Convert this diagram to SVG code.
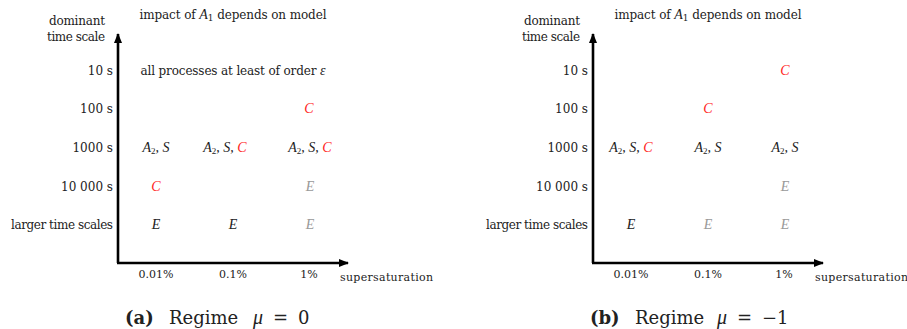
<svg xmlns="http://www.w3.org/2000/svg" width="907" height="329" viewBox="0 0 907 329">
<style>
text{font-family:"DejaVu Serif","Liberation Serif",serif;fill:#222}
.t{font-size:12px}
.s{font-size:12px}
.x{font-size:11px}
.m{font-family:"Liberation Serif","DejaVu Serif",serif;font-style:italic;font-size:14px}
.i{font-family:"Liberation Serif","DejaVu Serif",serif;font-style:italic}
.r{fill:#f22}
.g{fill:#999}
.e{text-anchor:end}
.c{text-anchor:middle}
.cap{font-size:18px}
.ax{stroke:#000;stroke-width:2.6;fill:none}
</style>
<defs>
<marker id="ah" viewBox="0 0 10 8" refX="9" refY="4" markerWidth="10" markerHeight="8" markerUnits="userSpaceOnUse" orient="auto">
<path d="M0,0 L10,4 L0,8 Z" fill="#000"/>
</marker>
<g id="panel-base">
<text class="s e" x="105" y="25" textLength="56">dominant</text>
<text class="s e" x="105" y="41" textLength="58">time scale</text>
<text class="t c" x="233" y="19" textLength="187">impact of <tspan class="i" font-size="14">A</tspan><tspan font-size="9" dy="2">1</tspan><tspan dy="-2"> depends on model</tspan></text>
<text class="t e" x="113" y="75">10 s</text>
<text class="t e" x="113" y="113">100 s</text>
<text class="t e" x="113" y="152">1000 s</text>
<text class="t e" x="113" y="191">10 000 s</text>
<text class="t e" x="113" y="229" textLength="102">larger time scales</text>
<text class="x c" x="156" y="278">0.01%</text>
<text class="x c" x="233" y="278">0.1%</text>
<text class="x c" x="309" y="278">1%</text>
<text class="x" x="340" y="281" textLength="93">supersaturation</text>
</g>
</defs>
<g id="connectors">
<line class="ax" x1="118" y1="263" x2="118" y2="34" marker-end="url(#ah)"/>
<line class="ax" x1="117" y1="263" x2="348" y2="263" marker-end="url(#ah)"/>
<line class="ax" x1="593" y1="263" x2="593" y2="34" marker-end="url(#ah)"/>
<line class="ax" x1="592" y1="263" x2="823" y2="263" marker-end="url(#ah)"/>
</g>
<g id="panel-a">
<use href="#panel-base"/>
<text class="t c" x="233" y="75" textLength="185">all processes at least of order <tspan class="i" font-size="14">ε</tspan></text>
<text class="m r c" x="309" y="113">C</text>
<text class="m c" x="156" y="152">A<tspan font-size="9" dy="2" font-style="normal">2</tspan><tspan dy="-2">, S</tspan></text>
<text class="m c" x="225" y="152">A<tspan font-size="9" dy="2" font-style="normal">2</tspan><tspan dy="-2">, S, </tspan><tspan class="r">C</tspan></text>
<text class="m c" x="310" y="152">A<tspan font-size="9" dy="2" font-style="normal">2</tspan><tspan dy="-2">, S, </tspan><tspan class="r">C</tspan></text>
<text class="m r c" x="156" y="191">C</text>
<text class="m g c" x="310" y="191">E</text>
<text class="m c" x="156" y="229">E</text>
<text class="m c" x="233" y="229">E</text>
<text class="m g c" x="310" y="229">E</text>
<text class="cap" y="324"><tspan x="125" font-weight="bold">(a)</tspan><tspan x="169">Regime</tspan><tspan x="253" class="i" font-size="20">μ</tspan><tspan x="273">=</tspan><tspan x="298">0</tspan></text>
</g>
<g id="panel-b">
<use href="#panel-base" x="475"/>
<text class="m r c" x="785" y="75">C</text>
<text class="m r c" x="708" y="113">C</text>
<text class="m c" x="631" y="152">A<tspan font-size="9" dy="2" font-style="normal">2</tspan><tspan dy="-2">, S, </tspan><tspan class="r">C</tspan></text>
<text class="m c" x="708" y="152">A<tspan font-size="9" dy="2" font-style="normal">2</tspan><tspan dy="-2">, S</tspan></text>
<text class="m c" x="785" y="152">A<tspan font-size="9" dy="2" font-style="normal">2</tspan><tspan dy="-2">, S</tspan></text>
<text class="m g c" x="785" y="191">E</text>
<text class="m c" x="631" y="229">E</text>
<text class="m g c" x="708" y="229">E</text>
<text class="m g c" x="785" y="229">E</text>
<text class="cap" y="324"><tspan x="590" font-weight="bold">(b)</tspan><tspan x="635">Regime</tspan><tspan x="717" class="i" font-size="20">μ</tspan><tspan x="737">=</tspan><tspan x="762">−1</tspan></text>
</g>
</svg>
